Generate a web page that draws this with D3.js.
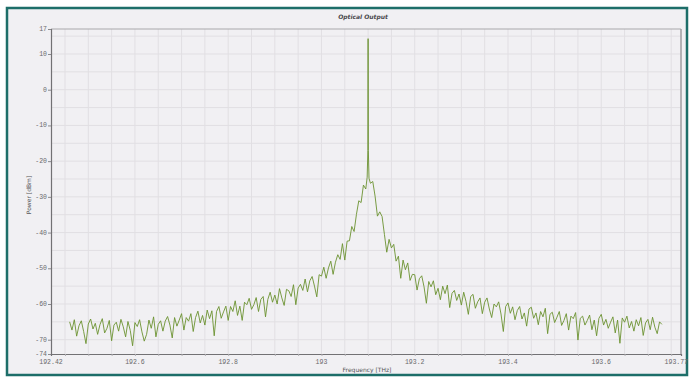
<!DOCTYPE html>
<html>
<head>
<meta charset="utf-8">
<script src="https://cdn.jsdelivr.net/npm/d3@7"></script>
<style>
  html, body { margin: 0; padding: 0; background: #ffffff; }
  svg { display: block; }
</style>
</head>
<body>
<svg id="chart" width="689" height="377"></svg>
<script>
// ---- Data ----
const chartTitle = "Optical Output";
const xTitle = "Frequency [THz]";
const yTitle = "Power [dBm]";

const xTickValues = [192.42, 192.6, 192.8, 193, 193.2, 193.4, 193.6, 193.771];
const xTickLabels = ["192.42", "192.6", "192.8", "193", "193.2", "193.4", "193.6", "193.77"];
const yTickValues = [17, 10, 0, -10, -20, -30, -40, -50, -60, -70, -74];
const yTickLabels = ["17", "10", "0", "-10", "-20", "-30", "-40", "-50", "-60", "-70", "-74"];

const freq = [
  192.46,192.465,192.47,192.475,192.48,192.485,192.49,192.495,192.5,192.505,192.51,192.515,192.52,192.525,192.53,192.535,192.54,192.545,192.55,192.555,
  192.56,192.565,192.57,192.575,192.58,192.585,192.59,192.595,192.6,192.605,192.61,192.615,192.62,192.625,192.63,192.635,192.64,192.645,192.65,192.655,
  192.66,192.665,192.67,192.675,192.68,192.685,192.69,192.695,192.7,192.705,192.71,192.715,192.72,192.725,192.73,192.735,192.74,192.745,192.75,192.755,
  192.76,192.765,192.77,192.775,192.78,192.785,192.79,192.795,192.8,192.805,192.81,192.815,192.82,192.825,192.83,192.835,192.84,192.845,192.85,192.855,
  192.86,192.865,192.87,192.875,192.88,192.885,192.89,192.895,192.9,192.905,192.91,192.915,192.92,192.925,192.93,192.935,192.94,192.945,192.95,192.955,
  192.96,192.965,192.97,192.975,192.98,192.985,192.99,192.995,193,193.005,193.01,193.015,193.02,193.025,193.03,193.035,193.04,193.045,193.05,193.055,
  193.06,193.065,193.07,193.075,193.08,193.085,193.09,193.095,
  193.098,193.0995,193.1,193.1005,193.102,
  193.105,193.11,193.115,193.12,193.125,193.13,193.135,193.14,193.145,193.15,193.155,193.16,193.165,193.17,193.175,193.18,193.185,193.19,193.195,193.2,
  193.205,193.21,193.215,193.22,193.225,193.23,193.235,193.24,193.245,193.25,193.255,193.26,193.265,193.27,193.275,193.28,193.285,193.29,193.295,193.3,
  193.305,193.31,193.315,193.32,193.325,193.33,193.335,193.34,193.345,193.35,193.355,193.36,193.365,193.37,193.375,193.38,193.385,193.39,193.395,193.4,
  193.405,193.41,193.415,193.42,193.425,193.43,193.435,193.44,193.445,193.45,193.455,193.46,193.465,193.47,193.475,193.48,193.485,193.49,193.495,193.5,
  193.505,193.51,193.515,193.52,193.525,193.53,193.535,193.54,193.545,193.55,193.555,193.56,193.565,193.57,193.575,193.58,193.585,193.59,193.595,193.6,
  193.605,193.61,193.615,193.62,193.625,193.63,193.635,193.64,193.645,193.65,193.655,193.66,193.665,193.67,193.675,193.68,193.685,193.69,193.695,193.7,
  193.705,193.71,193.715,193.72,193.725,193.73
];

const power = [
  -65.0,-67.3,-64.4,-69.0,-66.1,-64.7,-67.7,-71.1,-65.6,-64.2,-67.0,-65.4,-68.5,-65.8,-64.1,-68.1,-66.8,-64.6,-70.3,-65.9,
  -65.1,-67.6,-64.3,-66.4,-69.2,-64.9,-67.4,-71.7,-65.2,-66.3,-64.4,-67.8,-70.4,-68.5,-64.5,-66.8,-63.6,-69.2,-65.7,-64.7,
  -67.6,-64.8,-63.5,-65.9,-69.5,-63.8,-66.2,-64.5,-62.7,-67.3,-63.8,-64.8,-62.7,-67.7,-63.8,-62.0,-65.3,-63.2,-65.9,-61.7,
  -64.1,-61.9,-68.9,-62.1,-60.7,-64.0,-62.2,-60.6,-64.6,-60.7,-62.1,-59.1,-63.2,-60.6,-64.6,-59.5,-60.2,-58.4,-61.5,-60.2,
  -58.2,-62.1,-58.7,-57.9,-63.6,-58.7,-56.7,-59.5,-57.5,-60.0,-55.7,-58.3,-60.4,-55.9,-56.3,-57.9,-54.6,-60.2,-55.5,-54.5,
  -56.2,-53.0,-56.6,-53.5,-52.3,-55.0,-58.0,-51.8,-52.2,-49.7,-52.8,-49.9,-48.0,-51.7,-48.3,-46.2,-47.5,-43.1,-47.7,-42.4,
  -42.3,-38.3,-39.7,-34.9,-31.1,-31.6,-26.7,-27.8,
  -24.5,-17.0,14.3,-17.0,-24.8,
  -26.2,-25.7,-29.8,-35.4,-34.2,-35.5,-40.5,-45.5,-41.9,-44.3,-43.3,-48.0,-46.6,-52.8,-47.7,-50.4,-48.5,-53.4,-51.7,-51.8,
  -56.1,-52.9,-52.1,-55.2,-59.8,-53.7,-55.2,-53.5,-57.4,-55.6,-58.8,-55.0,-57.1,-54.7,-61.0,-57.0,-56.2,-59.0,-57.2,-60.3,
  -56.7,-59.3,-62.9,-57.9,-57.3,-61.2,-59.4,-58.3,-62.7,-59.5,-58.3,-61.4,-63.8,-60.0,-60.8,-59.4,-62.8,-67.7,-60.7,-59.7,
  -62.6,-60.8,-64.4,-61.8,-60.7,-64.2,-62.5,-66.2,-61.4,-60.9,-64.0,-62.5,-65.8,-62.1,-63.6,-61.2,-68.3,-62.9,-62.3,-65.2,
  -63.7,-62.1,-66.0,-64.6,-62.7,-67.3,-63.4,-64.1,-62.4,-70.1,-64.0,-63.4,-65.9,-64.6,-63.1,-67.2,-64.5,-68.9,-64.0,-62.9,
  -65.9,-64.3,-66.8,-65.1,-63.6,-68.1,-64.5,-71.0,-63.9,-65.1,-63.4,-66.7,-64.9,-67.6,-64.4,-66.1,-63.8,-68.8,-65.3,-64.3,
  -67.2,-63.7,-66.5,-68.3,-65.0,-65.7
];

// ---- Layout ----
const svg = d3.select("#chart");
const plot = { left: 51, top: 29, right: 681, bottom: 354 };

const x = d3.scaleLinear().domain([192.42, 193.771]).range([plot.left, plot.right]);
const y = d3.scaleLinear().domain([-74, 17]).range([plot.bottom, plot.top]);

// outer panel with teal frame
svg.append("rect")
  .attr("x", 7).attr("y", 8).attr("width", 680).attr("height", 367)
  .attr("fill", "#f1f0f3").attr("stroke", "#1d6e69").attr("stroke-width", 2.5);

// clip
svg.append("defs").append("clipPath").attr("id", "clip")
  .append("rect").attr("x", plot.left).attr("y", plot.top)
  .attr("width", plot.right - plot.left).attr("height", plot.bottom - plot.top);

// grid
const gGrid = svg.append("g");
const xGrid = d3.range(0, 27).map(k => +(192.45 + 0.05 * k).toFixed(2)).filter(v => v < 193.771);
const yGrid = d3.range(-70, 16, 5);
gGrid.selectAll("line.vx").data(xGrid).enter().append("line")
  .attr("x1", d => x(d)).attr("x2", d => x(d))
  .attr("y1", plot.top).attr("y2", plot.bottom)
  .attr("stroke", "#e1dfe3").attr("stroke-width", 1);
gGrid.selectAll("line.hy").data(yGrid).enter().append("line")
  .attr("x1", plot.left).attr("x2", plot.right)
  .attr("y1", d => y(d)).attr("y2", d => y(d))
  .attr("stroke", "#e1dfe3").attr("stroke-width", 1);

// data line
const pts = freq.map((f, i) => [f, power[i]]);
svg.append("path")
  .datum(pts)
  .attr("clip-path", "url(#clip)")
  .attr("fill", "none")
  .attr("stroke", "#6b9230")
  .attr("stroke-width", 0.9)
  .attr("stroke-linejoin", "round")
  .attr("d", d3.line().x(d => x(d[0])).y(d => y(d[1])));

// plot frame: top & right (light gray), left & bottom axes (darker)
svg.append("line").attr("x1", plot.left).attr("x2", plot.right).attr("y1", plot.top).attr("y2", plot.top)
  .attr("stroke", "#a9a8ab").attr("stroke-width", 1.2);
svg.append("line").attr("x1", plot.right).attr("x2", plot.right).attr("y1", plot.top).attr("y2", plot.bottom)
  .attr("stroke", "#9e9da0").attr("stroke-width", 1.5);

// axes
const fontTick = "'Liberation Mono', 'DejaVu Sans Mono', monospace";
const xAxis = d3.axisBottom(x).tickValues(xGrid).tickSize(2).tickFormat("");
const gx = svg.append("g").attr("transform", `translate(0,${plot.bottom})`).call(xAxis);
gx.select(".domain").attr("stroke", "#727174").attr("stroke-width", 1.2);
gx.selectAll(".tick line").attr("stroke", "#b0afb2");

svg.append("g").selectAll("text").data(xTickValues).enter().append("text")
  .attr("x", (d, i) => i === xTickValues.length - 1 ? 688 : x(d)).attr("y", 364)
  .attr("text-anchor", (d, i) => i === xTickValues.length - 1 ? "end" : "middle")
  .attr("font-family", fontTick).attr("font-size", 6.5).attr("fill", "#6a696c")
  .text((d, i) => xTickLabels[i]);

const yAxis = d3.axisLeft(y).tickValues(yTickValues).tickSize(3).tickFormat("");
const gy = svg.append("g").attr("transform", `translate(${plot.left},0)`).call(yAxis);
gy.select(".domain").attr("stroke", "#727174").attr("stroke-width", 1.2);
gy.selectAll(".tick line").attr("stroke", "#8a898c");

svg.append("g").selectAll("text").data(yTickValues).enter().append("text")
  .attr("x", 47).attr("y", d => y(d) + 2)
  .attr("text-anchor", "end")
  .attr("font-family", fontTick).attr("font-size", 6.5).attr("fill", "#6a696c")
  .text((d, i) => yTickLabels[i]);

// titles
svg.append("text").attr("x", 363).attr("y", 19).attr("text-anchor", "middle")
  .attr("font-family", "'DejaVu Sans', sans-serif").attr("font-size", 6)
  .attr("font-style", "italic").attr("font-weight", "bold").attr("fill", "#4a494c")
  .text(chartTitle);

svg.append("text").attr("x", 367).attr("y", 372).attr("text-anchor", "middle")
  .attr("font-family", "'DejaVu Sans', sans-serif").attr("font-size", 6).attr("fill", "#555457")
  .text(xTitle);

svg.append("text").attr("transform", "translate(31,195) rotate(-90)").attr("text-anchor", "middle")
  .attr("font-family", "'DejaVu Sans', sans-serif").attr("font-size", 6).attr("fill", "#555457")
  .text(yTitle);
</script>
</body>
</html>
